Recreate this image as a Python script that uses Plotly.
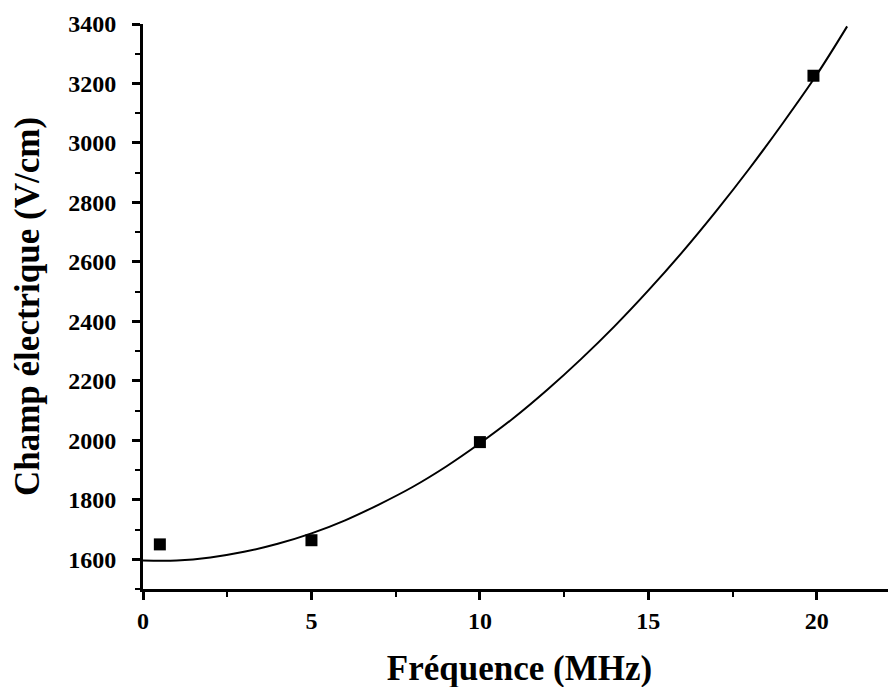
import plotly.graph_objects as go

# Measured data points
freq_pts = [0.5, 5, 10, 19.9]
field_pts = [1650, 1664, 1994, 3226]

# Fitted curve, values
fit_freq = [0, 1, 2, 3, 4, 5, 6, 7, 8, 9, 10, 11, 12, 13, 14, 15, 16, 17, 18, 19, 20, 20.9]
fit_field = [1596, 1596, 1606, 1625, 1652, 1687, 1731, 1784, 1843, 1912, 1990, 2075,
             2170, 2273, 2384, 2504, 2632, 2769, 2914, 3068, 3230, 3392]

x_ticks = [0, 5, 10, 15, 20]
y_ticks = [1600, 1800, 2000, 2200, 2400, 2600, 2800, 3000, 3200, 3400]

FONT = "Liberation Serif"

fig = go.Figure()
fig.add_trace(go.Scatter(x=fit_freq, y=fit_field, mode="lines",
                         line=dict(color="black", width=2, shape="spline"),
                         showlegend=False, hoverinfo="skip"))
fig.add_trace(go.Scatter(x=freq_pts, y=field_pts, mode="markers",
                         marker=dict(symbol="square", size=12, color="black"),
                         showlegend=False))

fig.update_layout(
    width=896, height=687,
    margin=dict(l=135, r=8, t=16, b=106, autoexpand=False),
    paper_bgcolor="white", plot_bgcolor="white",
    font=dict(family=FONT, color="black"),
)
fig.update_xaxes(
    automargin=False,
    range=[0, 22.35], tickvals=x_ticks, ticktext=[str(v) for v in x_ticks],
    showgrid=False, zeroline=False, showline=True, linecolor="black", linewidth=3,
    ticks="outside", ticklen=8, tickwidth=3, tickcolor="black",
    tickfont=dict(family=FONT, size=24, color="black", weight="bold"),
    ticklabelstandoff=0,
    minor=dict(ticks="outside", dtick=2.5, tick0=0, ticklen=5, tickwidth=2, tickcolor="black"),
    title=dict(text="<b>Fréquence (MHz)</b>", font=dict(family=FONT, size=35, color="black"),
               standoff=23),
)
fig.update_yaxes(
    automargin=False,
    range=[1500, 3400], tickvals=y_ticks, ticktext=[str(v) for v in y_ticks],
    showgrid=False, zeroline=False, showline=True, linecolor="black", linewidth=3,
    ticks="outside", ticklen=8, tickwidth=3, tickcolor="black",
    tickfont=dict(family=FONT, size=24, color="black", weight="bold"),
    ticklabelstandoff=11,
    minor=dict(ticks="outside", dtick=100, tick0=1500, ticklen=5, tickwidth=2, tickcolor="black"),
    title=dict(text="<b>Champ électrique (V/cm)</b>", font=dict(family=FONT, size=35, color="black"),
               standoff=23),
)

fig.write_html("out.html")
